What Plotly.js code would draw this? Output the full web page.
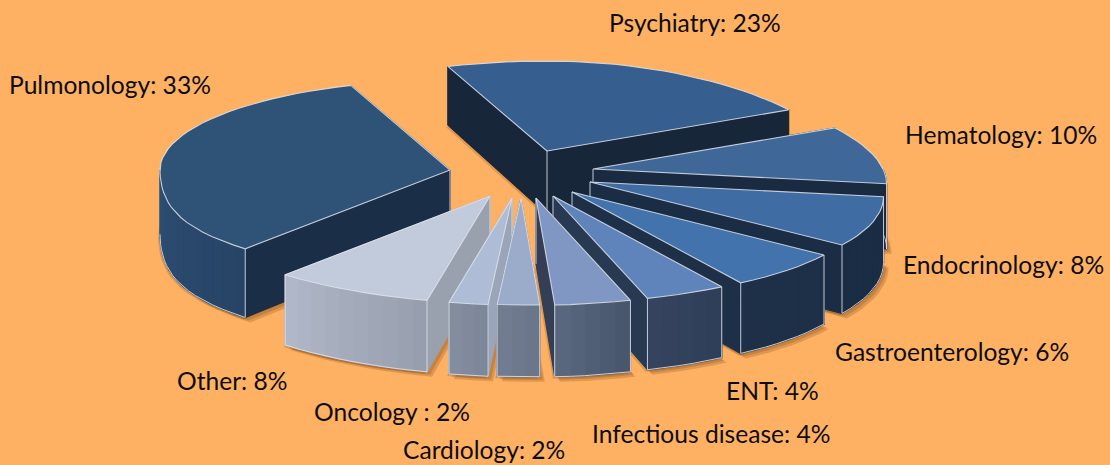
<!DOCTYPE html>
<html><head><meta charset="utf-8">
<script src="https://cdn.plot.ly/plotly-3.0.1.min.js"></script>
<style>html,body{margin:0;padding:0;background:#ffb163}#c{width:1110px;height:465px}</style>
</head><body><div id="c"></div>
<script>
// data
const categories = ["Psychiatry","Hematology","Endocrinology","Gastroenterology","ENT","Infectious disease","Cardiology","Oncology ","Other","Pulmonology"];
const shares = [23,10,8,6,4,4,2,2,8,33];
// style
const topColors  = ["#365e8f","#3f6899","#3f6ca3","#4373ac","#5f84bb","#7f97c2","#9bacca","#aebcd5","#c1cbdc","#2f5277"];
const cutColors  = ["#172638","#1a2a40","#1b2d45","#1e3048","#283a52","#343f55","#6a7489","#9aa5b9","#9aa1ae","#1b2e47"];
const wallFrom   = ["#172638","#1a2a40","#1b2d45","#1e3048","#2e3d58","#47556c","#687488","#7b8699","#969ead","#274466"];
const wallTo     = ["#172638","#1a2a40","#1b2d45","#1e3048","#36445f","#5b6980","#737e92","#848e9f","#b0b8c9","#2e4f75"];
// layout of the exploded slices (pixel anchor of each slice tip)
const tipX = [547,593,590,572,553,536,521,512,490,450];
const tipY = [151,169,182,192,196,198,198,198,196,170];
const drawOrder = [0,1,2,3,4,5,9,8,7,6];
const labelX = [607,903,901,833,724,590,401,312,175,7];
const labelY = [22,134,264,351,390,433,449,411,380,84];
const startAngle = -20;

const deg = Math.PI/180;
function rim(i, th){
  const c = Math.cos(th*deg), s = Math.sin(th*deg);
  let rx = 290;
  if (c < 0) rx += s > 0 ? 46*(-c) : 85*s*s*c*c;
  else if (s > 0) rx -= 40*c;
  const ry = c >= 0 ? 90 : 90 + 17*Math.sqrt(-c);
  const nudge = 7*Math.exp(-Math.pow((th-178)/7,2));
  return [tipX[i] + rx*s + nudge, tipY[i] - ry*c];
}
const drop = p => [p[0], p[1] + 55 + 0.055*p[1]];
function hex(c){return [1,3,5].map(k=>parseInt(c.substr(k,2),16));}
function mix(a,b,t){const A=hex(a),B=hex(b);return "rgb("+A.map((v,k)=>Math.round(v+(B[k]-v)*t)).join(",")+")";}
const traces = [];
function poly(pts, fill, line, w){
  traces.push({type:"scatter",mode:"lines",x:pts.map(p=>p[0]),y:pts.map(p=>p[1]),
    fill:"toself",fillcolor:fill||"rgba(0,0,0,0)",
    line:{color:line||fill,width:w==null?1.2:w},hoverinfo:"skip",showlegend:false});
}
const total = shares.reduce((a,b)=>a+b,0);
let acc = startAngle; const from=[], to=[];
shares.forEach((v,i)=>{from[i]=acc; acc+=v/total*360; to[i]=acc;});
function arcBetween(i,a,b){const r=[],n=Math.max(3,Math.ceil((b-a)/3));
  for(let k=0;k<=n;k++)r.push(rim(i,a+(b-a)*k/n));return r;}
const arc = i => arcBetween(i,from[i],to[i]);
// only the part of the rim that faces the viewer has a visible outer wall
function frontArc(i){const a=Math.max(from[i],90),b=Math.min(to[i],270);
  return b>a?arcBetween(i,a,b):[];}

// soft shadows below the base of each slice
[[-2,2],[3,3],[5,5]].forEach(o=>{
  drawOrder.forEach(i=>{
    const tip=[tipX[i],tipY[i]];
    const base=[tip].concat(arc(i)).map(drop).map(p=>[p[0]+o[0],p[1]+o[1]]);
    poly(base.concat([base[0]]),"rgba(110,60,10,0.22)","rgba(0,0,0,0)",0);
  });
});
const edge="rgba(222,227,236,0.85)";
drawOrder.forEach(i=>{
  const tip=[tipX[i],tipY[i]], A=arc(i), n=A.length-1;
  const T=drop(tip);
  const a0=A[0], a1=A[n];
  poly([tip,a1,drop(a1),T,tip],cutColors[i]);
  poly([tip,a0,drop(a0),T,tip],cutColors[i]);
  poly([tip,T],null,edge,1);
  const F=frontArc(i), m=F.length-1;
  for(let k=0;k<m;k++){
    const col=mix(wallFrom[i],wallTo[i],(k+0.5)/m);
    poly([F[k],F[k+1],drop(F[k+1]),drop(F[k]),F[k]],col);
  }
  if(m>0) poly(F.map(drop),null,edge,1);
  if(from[i]>=90&&from[i]<=270) poly([a0,drop(a0)],null,edge,1);
  if(to[i]>=90&&to[i]<=270) poly([a1,drop(a1)],null,edge,1);
  poly([tip].concat(A,[tip]),topColors[i],edge,1.1);
});

const annotations = categories.map((c,i)=>({
  xref:"x",yref:"y",x:labelX[i],y:labelY[i],xanchor:"left",yanchor:"middle",showarrow:false,
  text:c+": "+shares[i]+"%",font:{family:"Lato, Carlito, sans-serif",size:24.6,color:"#0d0d0d"}
}));
Plotly.newPlot("c",traces,{
  width:1110,height:465,margin:{l:0,r:0,t:0,b:0},
  paper_bgcolor:"#ffb163",plot_bgcolor:"#ffb163",showlegend:false,
  xaxis:{range:[0,1110],visible:false,fixedrange:true},
  yaxis:{range:[465,0],visible:false,fixedrange:true},
  annotations
},{displayModeBar:false,staticPlot:true});
</script></body></html>
